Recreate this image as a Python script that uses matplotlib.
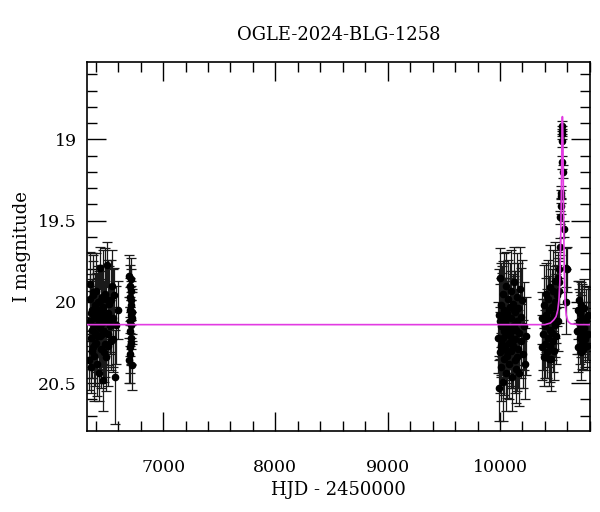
import matplotlib
matplotlib.use("Agg")
import matplotlib.pyplot as plt
from matplotlib.ticker import MultipleLocator, FormatStrFormatter

plt.rcParams["font.family"] = ["DejaVu Serif"]

# season 2013 (early points)
t1 = [6340, 6345, 6350, 6353, 6358, 6362, 6366, 6371, 6375, 6380,
      6384, 6389, 6393, 6398, 6402, 6407, 6411, 6416, 6420, 6425,
      6429, 6433, 6438, 6442, 6447, 6451, 6456, 6460, 6465, 6469,
      6474, 6478, 6483, 6487, 6492, 6496, 6502, 6507, 6513, 6519,
      6525, 6532, 6540, 6546, 6552, 6558, 6567, 6576, 6585, 6600,
      6356, 6368, 6377, 6386, 6396, 6404, 6414, 6423, 6436, 6445,
      6454, 6463, 6472, 6481, 6490, 6510, 6528]
m1 = [20.36, 20.12, 19.98, 19.89, 20.22, 20.40, 20.05, 20.17, 20.28, 19.96,
      20.10, 20.33, 20.02, 20.19, 19.93, 20.25, 20.08, 20.38, 20.14, 20.00,
      20.44, 20.11, 19.79, 20.21, 20.06, 20.29, 19.97, 20.13, 20.48, 20.03,
      20.18, 20.09, 20.26, 19.95, 20.12, 20.34, 19.77, 20.07, 20.20, 20.01,
      20.15, 19.99, 20.24, 19.90, 20.23, 20.10, 19.96, 20.46, 20.14, 20.05,
      20.07, 20.30, 19.94, 20.15, 20.26, 20.04, 20.21, 20.09, 20.16, 19.99,
      20.20, 20.04, 20.31, 20.10, 19.98, 20.27, 20.11]
e1 = [0.18, 0.22, 0.15, 0.20, 0.25, 0.16, 0.19, 0.24, 0.14, 0.21,
      0.17, 0.28, 0.19, 0.15, 0.23, 0.18, 0.26, 0.20, 0.16, 0.22,
      0.17, 0.30, 0.13, 0.21, 0.18, 0.24, 0.16, 0.27, 0.19, 0.35,
      0.15, 0.22, 0.20, 0.28, 0.17, 0.21, 0.14, 0.33, 0.19, 0.23,
      0.16, 0.25, 0.18, 0.22, 0.20, 0.30, 0.17, 0.29, 0.24, 0.18,
      0.20, 0.17, 0.23, 0.19, 0.26, 0.18, 0.21, 0.24, 0.16, 0.22,
      0.19, 0.27, 0.18, 0.23, 0.20, 0.25, 0.21]

t2 = [6698, 6700, 6702, 6703, 6705, 6706, 6708, 6709, 6710, 6711,
      6712, 6713, 6714, 6715, 6716, 6717, 6718, 6719, 6720, 6722]
m2 = [20.36, 19.84, 20.12, 19.97, 20.28, 20.05, 19.90, 20.18, 20.32, 19.99,
      20.08, 20.22, 19.86, 20.14, 20.02, 20.25, 19.93, 20.10, 20.39, 20.06]
e2 = [0.14, 0.13, 0.15, 0.12, 0.16, 0.14, 0.13, 0.15, 0.18, 0.12,
      0.14, 0.16, 0.13, 0.15, 0.12, 0.14, 0.13, 0.16, 0.15, 0.14]

t3 = [9985, 9990, 9994, 9998, 10002, 10006, 10010, 10013, 10017, 10021,
      10025, 10028, 10032, 10036, 10040, 10043, 10047, 10051, 10055, 10058,
      10062, 10066, 10070, 10074, 10078, 10082, 10086, 10090, 10094, 10098,
      10102, 10106, 10110, 10114, 10118, 10122, 10126, 10130, 10134, 10138,
      10143, 10148, 10153, 10158, 10163, 10168, 10173, 10178, 10184, 10190,
      10197, 10204, 10212, 10220, 10228,
      9996, 10008, 10019, 10030, 10045, 10060, 10076, 10092, 10108, 10124,
      10140, 10156]
m3 = [20.22, 20.08, 20.53, 20.31, 19.85, 20.15, 20.40, 20.02, 20.26, 20.11,
      20.49, 19.95, 20.18, 20.35, 20.05, 20.28, 20.12, 19.90, 20.44, 20.20,
      20.07, 20.33, 19.98, 20.16, 20.25, 20.38, 20.03, 20.21, 19.93, 20.30,
      20.10, 20.46, 20.17, 20.01, 20.27, 19.88, 20.14, 20.36, 20.06, 20.23,
      20.41, 19.97, 20.12, 20.29, 20.04, 20.19, 20.44, 19.92, 20.24, 20.09,
      19.99, 20.32, 20.15, 20.38, 20.21,
      20.12, 20.27, 20.08, 20.22, 20.13, 20.30, 20.09, 20.19, 20.25, 20.05,
      20.17, 20.34]
e3 = [0.22, 0.28, 0.20, 0.25, 0.18, 0.30, 0.21, 0.26, 0.19, 0.33,
      0.24, 0.20, 0.27, 0.22, 0.35, 0.19, 0.25, 0.21, 0.23, 0.28,
      0.20, 0.26, 0.24, 0.31, 0.19, 0.22, 0.27, 0.20, 0.25, 0.23,
      0.29, 0.21, 0.24, 0.18, 0.26, 0.22, 0.30, 0.20, 0.25, 0.23,
      0.21, 0.27, 0.19, 0.24, 0.28, 0.22, 0.20, 0.26, 0.23, 0.30,
      0.25, 0.21, 0.27, 0.22, 0.24,
      0.23, 0.19, 0.26, 0.21, 0.28, 0.20, 0.24, 0.22, 0.27, 0.19,
      0.25, 0.21]

t4 = [10372, 10378, 10384, 10390, 10395, 10400, 10405, 10410, 10414, 10418,
      10422, 10426, 10430, 10434, 10438, 10442, 10446, 10450, 10454, 10458,
      10462, 10466, 10470, 10474, 10478, 10482, 10486, 10490, 10494, 10498,
      10503, 10508, 10513, 10518, 10524, 10528]
m4 = [20.28, 20.10, 20.20, 20.34, 20.02, 20.15, 20.26, 19.95, 20.08, 20.31,
      20.12, 20.22, 19.98, 20.35, 20.05, 20.17, 20.27, 19.91, 20.11, 20.35,
      20.03, 20.19, 20.24, 19.93, 20.08, 20.30, 20.00, 20.14, 19.87, 20.21,
      20.04, 19.96, 20.12, 19.85, 19.93, 19.88]
e4 = [0.20, 0.16, 0.22, 0.18, 0.25, 0.17, 0.21, 0.19, 0.23, 0.16,
      0.20, 0.18, 0.24, 0.17, 0.21, 0.19, 0.22, 0.26, 0.18, 0.20,
      0.23, 0.17, 0.19, 0.25, 0.21, 0.18, 0.22, 0.20, 0.24, 0.17,
      0.21, 0.19, 0.18, 0.16, 0.20, 0.15]

# the event itself
t5 = [10530, 10534, 10538, 10541, 10544, 10546, 10549, 10551, 10553, 10555,
      10556, 10560, 10566, 10585, 10590, 10596]
m5 = [19.80, 19.66, 19.48, 19.41, 19.35, 19.33, 19.14, 19.01, 18.965, 18.92,
      18.95, 19.20, 19.55, 19.79, 20.00, 19.80]
e5 = [0.05, 0.05, 0.04, 0.05, 0.04, 0.04, 0.04, 0.04, 0.03, 0.03,
      0.03, 0.04, 0.05, 0.12, 0.20, 0.14]

t6 = [10688, 10693, 10698, 10702, 10706, 10710, 10714, 10718, 10722, 10726,
      10730, 10734, 10738, 10742, 10747, 10752, 10758, 10765, 10772, 10780, 10788]
m6 = [20.18, 20.05, 20.28, 19.99, 20.12, 20.22, 20.07, 20.31, 20.15, 20.02,
      20.25, 20.10, 20.19, 20.29, 20.04, 20.16, 20.23, 20.11, 20.27, 20.08, 20.20]
e6 = [0.14, 0.18, 0.15, 0.12, 0.20, 0.16, 0.13, 0.17, 0.19, 0.14,
      0.16, 0.21, 0.15, 0.13, 0.18, 0.16, 0.14, 0.19, 0.15, 0.17, 0.16]

# model curve
model_t = [6300, 10400, 10450, 10480, 10500, 10515, 10525, 10533, 10540, 10545,
           10549, 10552, 10554, 10556, 10558, 10561, 10564, 10568, 10573, 10580,
           10590, 10605, 10630, 10700, 10850]
model_m = [20.14, 20.14, 20.13, 20.11, 20.09, 20.05, 19.99, 19.88, 19.65, 19.42,
           19.18, 18.98, 18.89, 18.86, 18.89, 19.02, 19.25, 19.55, 19.82, 20.00,
           20.08, 20.12, 20.135, 20.14, 20.14]

fig = plt.figure(figsize=(6, 5.12), dpi=100)
ax = fig.add_axes([0.1445, 0.158, 0.8385, 0.7203])

for t, m, e in [(t1, m1, e1), (t2, m2, e2), (t3, m3, e3),
                (t4, m4, e4), (t5, m5, e5), (t6, m6, e6)]:
    ax.errorbar(t, m, yerr=e, fmt="o", color="black", ecolor="#1a1a1a",
                ms=4.5, elinewidth=0.9, capsize=3.5, capthick=0.9, zorder=2)

ax.plot(model_t, model_m, color="#e23be2", lw=1.2, zorder=3)

ax.set_xlim(6320, 10800)
ax.set_ylim(20.795, 18.526)

ax.xaxis.set_major_locator(MultipleLocator(1000))
ax.xaxis.set_minor_locator(MultipleLocator(200))
ax.yaxis.set_major_locator(MultipleLocator(0.5))
ax.yaxis.set_minor_locator(MultipleLocator(0.1))
ax.yaxis.set_major_formatter(FormatStrFormatter("%g"))
ax.tick_params(which="both", direction="in", top=True, right=True,
               labelsize=12.5, width=1)
ax.tick_params(which="major", length=14)
ax.tick_params(which="minor", length=7)
ax.tick_params(axis="x", which="major", pad=20)
ax.tick_params(axis="y", which="major", pad=7)
for s in ax.spines.values():
    s.set_linewidth(1.2)

ax.set_title("OGLE-2024-BLG-1258", fontsize=13, pad=16)
ax.set_xlabel("HJD - 2450000", fontsize=13, labelpad=4)
ax.set_ylabel("I magnitude", fontsize=13, labelpad=5)

fig.savefig("out.png", dpi=100)
